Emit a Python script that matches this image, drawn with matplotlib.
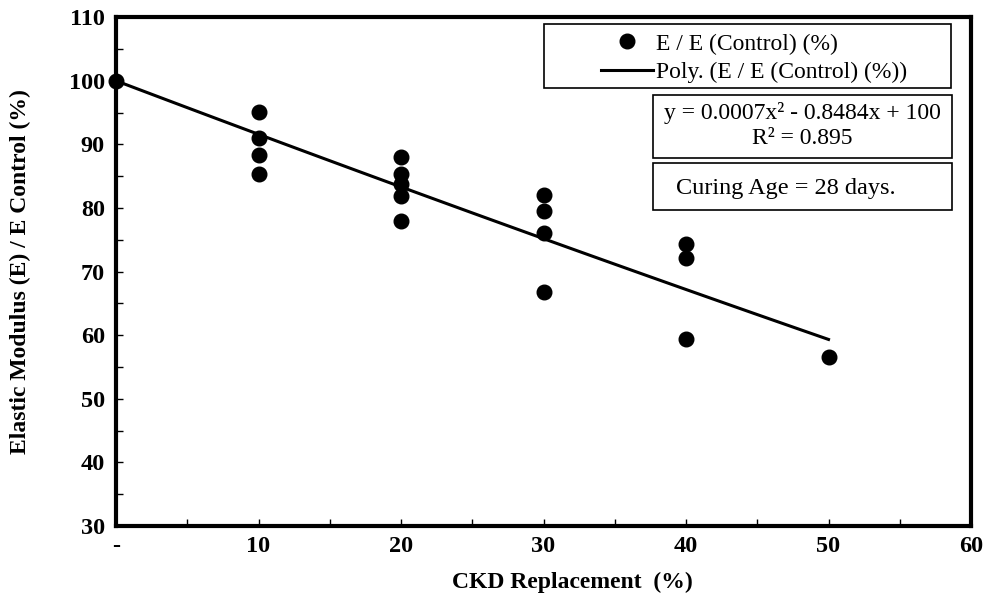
import numpy as np
import matplotlib.pyplot as plt
from matplotlib.patches import Rectangle
from matplotlib.ticker import MultipleLocator, FuncFormatter

# CKD replacement (%) and E / E(control) (%)
ckd = [0, 10, 10, 10, 10, 20, 20, 20, 20, 20, 30, 30, 30, 30, 40, 40, 40, 50]
e_ratio = [100, 95.1, 91.0, 88.3, 85.3, 88.0, 85.4, 83.7, 81.9, 78.0,
           82.0, 79.6, 76.0, 66.8, 74.4, 72.2, 59.4, 56.5]

# trend line coefficients as printed on the chart (highest power first)
poly_coef = [0.0007, -0.8484, 100]
r2 = 0.895

plt.rcParams['font.family'] = ['Liberation Serif', 'DejaVu Serif']

fig = plt.figure(figsize=(9.85, 6.05), dpi=100)
ax = fig.add_axes([0.1178, 0.1306, 0.868, 0.841])

ax.plot(ckd, e_ratio, 'o', color='black', markersize=10.5,
        label='E / E (Control) (%)', zorder=3, clip_on=False)
xfit = np.linspace(min(ckd), max(ckd), 100)
ax.plot(xfit, np.polyval(poly_coef, xfit), color='black', lw=2.2,
        label='Poly. (E / E (Control) (%))', zorder=2)

ax.set_xlim(0, 60)
ax.set_ylim(30, 110)
ax.xaxis.set_major_locator(MultipleLocator(10))
ax.xaxis.set_minor_locator(MultipleLocator(5))
ax.yaxis.set_major_locator(MultipleLocator(10))
ax.yaxis.set_minor_locator(MultipleLocator(5))
ax.xaxis.set_major_formatter(FuncFormatter(lambda v, p: '-' if v == 0 else '%d' % v))
ax.tick_params(which='both', direction='in', length=5, width=1, top=False, right=False)
ax.tick_params(which='major', labelsize=17.5)
ax.tick_params(axis='x', pad=7)
ax.tick_params(axis='y', pad=8)
for lab in ax.get_xticklabels() + ax.get_yticklabels():
    lab.set_fontweight('bold')

for sp in ax.spines.values():
    sp.set_linewidth(3)

ax.set_xlabel('CKD Replacement  (%)', fontsize=17, fontweight='bold', labelpad=11)
ax.xaxis.label.set_x(0.534)
ax.set_ylabel('Elastic Modulus (E) / E Control (%)', fontsize=17, fontweight='bold', labelpad=27)

# legend without its own frame, framed by a rectangle like the original
leg = ax.legend(loc='upper left', bbox_to_anchor=(0.554, 0.992), fontsize=17,
                frameon=False, borderpad=0, handlelength=2.2,
                handletextpad=0.1, labelspacing=0.3)
ax.add_patch(Rectangle((0.5006, 0.8605), 0.476, 0.1257, transform=ax.transAxes,
                       fill=False, ec='black', lw=1.2, clip_on=False, zorder=4))

# equation box
ax.add_patch(Rectangle((0.628, 0.7236), 0.350, 0.1232, transform=ax.transAxes,
                       fc='white', ec='black', lw=1.2, clip_on=False, zorder=4))
ax.text(0.803, 0.787, 'y = 0.0007x\u00b2 - 0.8484x + 100\nR\u00b2 = %.3f' % r2,
        transform=ax.transAxes, ha='center', va='center', fontsize=17,
        linespacing=1.25, multialignment='center', zorder=5)

# curing age box
ax.add_patch(Rectangle((0.628, 0.6208), 0.350, 0.0924, transform=ax.transAxes,
                       fc='white', ec='black', lw=1.2, clip_on=False, zorder=4))
ax.text(0.783, 0.663, 'Curing Age = 28 days.',
        transform=ax.transAxes, ha='center', va='center', fontsize=17.5, zorder=5)

fig.savefig('out.png', dpi=100)
